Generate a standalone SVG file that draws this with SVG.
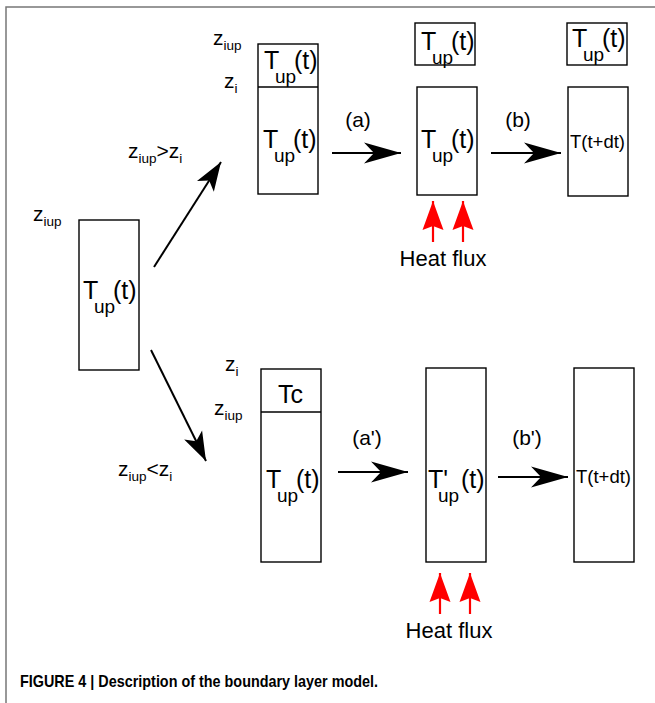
<svg xmlns="http://www.w3.org/2000/svg" width="655" height="703" viewBox="0 0 655 703">
<style>
text{font-family:"Liberation Sans",Arial,sans-serif;fill:#000}
.box{fill:#fff;stroke:#000;stroke-width:1.4}
.div{stroke:#000;stroke-width:1.4}
.big{font-size:25px}
.sub{font-size:19px}
.z{font-size:21px}
.zs{font-size:13.5px}
.lbl{font-size:21px;text-anchor:middle}
.hf{font-size:22px;text-anchor:middle}
.tt{font-size:18.5px}
.arr{stroke:#000;stroke-width:2;fill:none}
.red{stroke:#f00;stroke-width:2.2;fill:none}
.cap{font-size:17px;font-weight:bold}
</style>
<defs>
<marker id="ah" markerUnits="userSpaceOnUse" viewBox="-38 -12 40 24" markerWidth="40" markerHeight="24" refX="0" refY="0" orient="auto">
<path d="M0,0 L-37,-10.5 L-27,0 L-37,10.5 Z" fill="#000"/>
</marker>
<marker id="ahd" markerUnits="userSpaceOnUse" viewBox="-30 -12 32 24" markerWidth="32" markerHeight="24" refX="0" refY="0" orient="auto">
<path d="M0,0 L-29,-10 L-22,0 L-29,10 Z" fill="#000"/>
</marker>
<marker id="ahr" markerUnits="userSpaceOnUse" viewBox="-30 -12 32 24" markerWidth="32" markerHeight="24" refX="0" refY="0" orient="auto">
<path d="M0,0 L-29,-10.5 L-25,0 L-29,10.5 Z" fill="#f00"/>
</marker>
</defs>
<rect width="655" height="703" fill="#fff"/>
<path d="M6,703 V7 H655" fill="none" stroke="#777" stroke-width="1.5"/>

<g id="connectors">
<line class="arr" x1="154" y1="267" x2="221" y2="162" marker-end="url(#ahd)"/>
<line class="arr" x1="151" y1="350" x2="206" y2="461" marker-end="url(#ahd)"/>
<line class="arr" x1="332" y1="153" x2="401" y2="153" marker-end="url(#ah)"/>
<line class="arr" x1="491" y1="153" x2="561" y2="153" marker-end="url(#ah)"/>
<line class="arr" x1="338" y1="472" x2="408" y2="472" marker-end="url(#ah)"/>
<line class="arr" x1="498" y1="477" x2="568" y2="477" marker-end="url(#ah)"/>
<line class="red" x1="433" y1="242" x2="433" y2="201" marker-end="url(#ahr)"/>
<line class="red" x1="463" y1="242" x2="463" y2="201" marker-end="url(#ahr)"/>
<line class="red" x1="440" y1="614" x2="440" y2="573" marker-end="url(#ahr)"/>
<line class="red" x1="470" y1="614" x2="470" y2="573" marker-end="url(#ahr)"/>
</g>

<g id="start">
<rect class="box" x="79" y="220" width="60" height="150"/>
<text class="big" x="83" y="299">T<tspan class="sub" x="94" y="313">up</tspan><tspan x="113" y="299">(t)</tspan></text>
<text class="z" x="33" y="221">z<tspan class="zs" dy="5">iup</tspan></text>
</g>

<g id="cond-top">
<text class="z" x="128" y="158">z<tspan class="zs" dy="5">iup</tspan><tspan dy="-5">&gt;z</tspan><tspan class="zs" dy="5">i</tspan></text>
</g>
<g id="cond-bottom">
<text class="z" x="118" y="476">z<tspan class="zs" dy="5">iup</tspan><tspan dy="-5">&lt;z</tspan><tspan class="zs" dy="5">i</tspan></text>
</g>

<g id="top-1">
<rect class="box" x="258" y="44" width="60" height="150"/>
<line class="div" x1="258" y1="87" x2="318" y2="87"/>
<text class="big" x="264" y="69">T<tspan class="sub" x="275" y="83">up</tspan><tspan x="294" y="69">(t)</tspan></text>
<text class="big" x="263" y="148">T<tspan class="sub" x="274" y="162">up</tspan><tspan x="293" y="148">(t)</tspan></text>
<text class="z" x="213" y="45">z<tspan class="zs" dy="5">iup</tspan></text>
<text class="z" x="224" y="88">z<tspan class="zs" dy="5">i</tspan></text>
</g>

<g id="top-2">
<rect class="box" x="415" y="23" width="60" height="42"/>
<text class="big" x="421" y="50">T<tspan class="sub" x="432" y="64">up</tspan><tspan x="451" y="50">(t)</tspan></text>
<rect class="box" x="417" y="87" width="60" height="108"/>
<text class="big" x="421" y="148">T<tspan class="sub" x="432" y="162">up</tspan><tspan x="451" y="148">(t)</tspan></text>
</g>

<g id="top-3">
<rect class="box" x="567" y="23" width="60" height="42"/>
<text class="big" x="572" y="47">T<tspan class="sub" x="583" y="61">up</tspan><tspan x="602" y="47">(t)</tspan></text>
<rect class="box" x="568" y="87" width="60" height="109"/>
<text class="tt" x="570" y="148">T(t+dt)</text>
</g>

<g id="labels-top">
<text class="lbl" x="358" y="127">(a)</text>
<text class="lbl" x="518" y="127">(b)</text>
<text class="hf" x="443" y="266">Heat flux</text>
</g>

<g id="bot-1">
<rect class="box" x="261" y="369" width="60" height="193"/>
<line class="div" x1="261" y1="412" x2="321" y2="412"/>
<text class="big" x="278" y="403">Tc</text>
<text class="big" x="266" y="488">T<tspan class="sub" x="277" y="502">up</tspan><tspan x="296" y="488">(t)</tspan></text>
<text class="z" x="225" y="371">z<tspan class="zs" dy="5">i</tspan></text>
<text class="z" x="214" y="415">z<tspan class="zs" dy="5">iup</tspan></text>
</g>

<g id="bot-2">
<rect class="box" x="426" y="368" width="60" height="194"/>
<text class="big" x="428" y="488">T'<tspan class="sub" x="438" y="502">up</tspan><tspan x="461" y="488">(t)</tspan></text>
</g>

<g id="bot-3">
<rect class="box" x="574" y="368" width="60" height="194"/>
<text class="tt" x="576" y="483">T(t+dt)</text>
</g>

<g id="labels-bottom">
<text class="lbl" x="367" y="445">(a')</text>
<text class="lbl" x="527" y="445">(b')</text>
<text class="hf" x="449" y="638">Heat flux</text>
</g>

<text class="cap" x="20" y="687" textLength="358" lengthAdjust="spacingAndGlyphs">FIGURE 4 | Description of the boundary layer model.</text>
</svg>
